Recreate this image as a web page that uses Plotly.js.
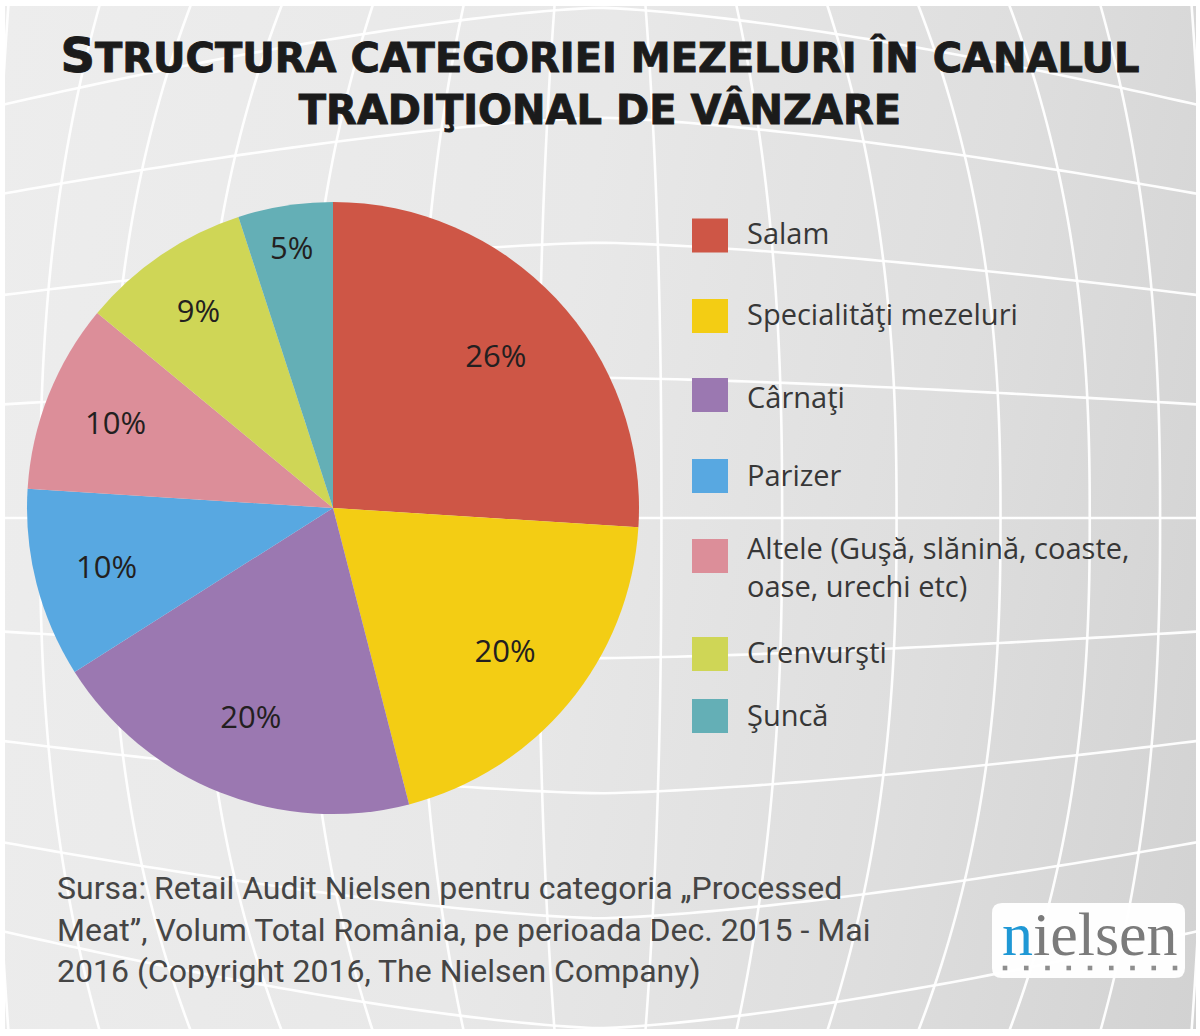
<!DOCTYPE html>
<html>
<head>
<meta charset="utf-8">
<script src="https://cdn.plot.ly/plotly-3.0.1.min.js"></script>
<style>
html,body{margin:0;padding:0;background:#ffffff;}
#wrap{position:relative;width:1200px;height:1036px;background:#ffffff;overflow:hidden;}
#bg{position:absolute;left:5px;top:6px;width:1191px;height:1023px;
 background:linear-gradient(100deg,#ededed 0%,#e8e8e8 45%,#dedede 75%,#d2d2d2 100%);}
#chart{position:absolute;left:0;top:0;width:1200px;height:1036px;}
.gtitle{stroke:#1b1b1b;stroke-width:0.9px;}
</style>
</head>
<body>
<div id="wrap"><div id="bg"></div><div id="chart"></div></div>
<script>
// ---------------- data ----------------
const categories = ["Salam", "Specialităţi mezeluri", "Cârnaţi", "Parizer",
  "Altele (Guşă, slănină, coaste, oase, urechi etc)", "Crenvurşti", "Şuncă"];
const legendLabels = ["Salam", "Specialităţi mezeluri", "Cârnaţi", "Parizer",
  "Altele (Guşă, slănină, coaste,<br>oase, urechi etc)", "Crenvurşti", "Şuncă"];
const shares = [26, 20, 20, 10, 10, 9, 5];
const sliceColors = ["#ce5646", "#f3cd14", "#9b78b1", "#58a8e1", "#dc8e99", "#cfd656", "#64afb6"];
const titleText = "<span style='font-size:48px'>S</span>TRUCTURA CATEGORIEI MEZELURI ÎN CANALUL<br>TRADIŢIONAL DE VÂNZARE";
const sourceText = "Sursa: Retail Audit Nielsen pentru categoria „Processed<br>Meat”, Volum Total România, pe perioada Dec. 2015 - Mai<br>2016 (Copyright 2016, The Nielsen Company)";

// ---------------- layout geometry ----------------
const W = 1200, H = 1036;
const px = x => x / W;
const py = y => 1 - y / H;
const PIE = {cx: 333, cy: 508, r: 306};
const LEG = {x0: 692, x1: 728, h: 34, textX: 745,
  boxY: [235.5, 316, 395, 476, 556, 654, 716],
  textY: [233, 313, 396, 474.5, 566, 651, 714.5]};

// background decorative grid (distorted)
const GX = 600, GY = 518, kx = 3.76e-7, ky = 3.0e-7;
function pathFrom(pts) {
  return pts.map((p, i) => (i ? 'L' : 'M') + px(p[0]).toFixed(5) + ',' + py(p[1]).toFixed(5)).join(' ');
}
const gridShapes = [];
const gridLine = {color: 'rgba(255,255,255,0.95)', width: 2.6};
for (let n = 0; n < 8; n++) {
  for (const sgn of [-1, 1]) {
    const u = sgn * (61.5 + 123 * n);
    const pts = [];
    for (let y = -20; y <= 1060; y += 12) {
      const dy = y - GY;
      const w = Math.pow(Math.abs(dy) / 512, 2.4);
      const f = (1 - w) * (1 - kx * u * u) + w * 0.74;
      pts.push([GX + u * f, y]);
    }
    gridShapes.push({type: 'path', xref: 'paper', yref: 'paper', layer: 'below', path: pathFrom(pts), line: gridLine});
  }
}
for (let n = -4; n <= 4; n++) {
  const v = 141 * n;
  const Y = v * (1 - ky * v * v);
  const pts = [];
  for (let x = -20; x <= 1220; x += 12) {
    const dx = x - GX;
    const t = 1 - 0.072 * Math.pow(Math.abs(dx) / 300, 1.41);
    pts.push([x, GY + Y * t]);
  }
  gridShapes.push({type: 'path', xref: 'paper', yref: 'paper', layer: 'below', path: pathFrom(pts), line: gridLine});
}

// legend swatches + labels
const legendShapes = categories.map((c, i) => ({
  type: 'rect', xref: 'paper', yref: 'paper', layer: 'above',
  x0: px(LEG.x0), x1: px(LEG.x1),
  y0: py(LEG.boxY[i] + LEG.h / 2), y1: py(LEG.boxY[i] - LEG.h / 2),
  fillcolor: sliceColors[i], line: {width: 0}
}));
const legendAnnots = legendLabels.map((t, i) => ({
  xref: 'paper', yref: 'paper', x: px(LEG.textX), y: py(LEG.textY[i]),
  xanchor: 'left', yanchor: 'middle', align: 'left', showarrow: false, text: t,
  font: {family: 'Open Sans, sans-serif', size: 29, color: '#373737'}
}));

// nielsen logo
function roundRect(x0, y0, x1, y1, r) {
  return 'M' + px(x0 + r) + ',' + py(y0) + ' L' + px(x1 - r) + ',' + py(y0) +
    ' Q' + px(x1) + ',' + py(y0) + ' ' + px(x1) + ',' + py(y0 + r) +
    ' L' + px(x1) + ',' + py(y1 - r) + ' Q' + px(x1) + ',' + py(y1) + ' ' + px(x1 - r) + ',' + py(y1) +
    ' L' + px(x0 + r) + ',' + py(y1) + ' Q' + px(x0) + ',' + py(y1) + ' ' + px(x0) + ',' + py(y1 - r) +
    ' L' + px(x0) + ',' + py(y0 + r) + ' Q' + px(x0) + ',' + py(y0) + ' ' + px(x0 + r) + ',' + py(y0) + ' Z';
}
const logoShapes = [{type: 'path', xref: 'paper', yref: 'paper', layer: 'above',
  path: roundRect(992, 903, 1185, 978, 10), fillcolor: 'rgba(255,255,255,0.96)', line: {width: 0}}];
for (let i = 0; i < 9; i++) {
  const cxd = 1005 + i * 21.25;
  logoShapes.push({type: 'rect', xref: 'paper', yref: 'paper', layer: 'above',
    x0: px(cxd - 2.3), x1: px(cxd + 2.3), y0: py(970.3), y1: py(965.7),
    fillcolor: '#8e8e8e', line: {width: 0}});
}

const pieDomain = {x: [px(PIE.cx - PIE.r), px(PIE.cx + PIE.r)], y: [py(PIE.cy + PIE.r), py(PIE.cy - PIE.r)]};

const traces = [
  {type: 'pie', values: shares, labels: categories, sort: false, direction: 'clockwise', rotation: 0,
   domain: pieDomain, marker: {colors: sliceColors, line: {width: 0}},
   textinfo: 'none', showlegend: false, hovertemplate: '%{label}: %{value}%<extra></extra>'},
  {type: 'pie', values: shares, labels: categories, sort: false, direction: 'clockwise', rotation: 0,
   domain: pieDomain, hole: 0.46, marker: {colors: sliceColors.map(() => 'rgba(0,0,0,0)'), line: {width: 0}},
   texttemplate: '%{value}%', textposition: 'inside', insidetextorientation: 'horizontal',
   insidetextfont: {family: 'Open Sans, sans-serif', size: 31, color: '#231f20'},
   showlegend: false, hoverinfo: 'skip'}
];

const layout = {
  width: W, height: H, autosize: false,
  margin: {l: 0, r: 0, t: 0, b: 0, pad: 0},
  paper_bgcolor: 'rgba(0,0,0,0)', plot_bgcolor: 'rgba(0,0,0,0)',
  showlegend: false,
  title: {text: titleText, x: 0.5, xanchor: 'center', xref: 'paper', yref: 'container',
    y: 1 - 72 / H, yanchor: 'top',
    font: {family: 'DejaVu Sans, sans-serif', size: 40, weight: 'bold', color: '#1b1b1b'}},
  shapes: gridShapes.concat(legendShapes, logoShapes),
  annotations: legendAnnots.concat([
    {xref: 'paper', yref: 'paper', x: px(55), y: py(929), xanchor: 'left', yanchor: 'middle',
     align: 'left', showarrow: false, text: sourceText,
     font: {family: 'Roboto, sans-serif', size: 32, color: '#454545'}},
    {xref: 'paper', yref: 'paper', x: px(1089.5), y: py(934), xanchor: 'center', yanchor: 'middle',
     showarrow: false, text: "<span style='color:#1f98d5'>n</span>ielsen",
     font: {family: 'Liberation Serif, serif', size: 62, color: '#7b7b7b'}}
  ])
};

Plotly.newPlot('chart', traces, layout, {displayModeBar: false, staticPlot: true});
</script>
</body>
</html>
